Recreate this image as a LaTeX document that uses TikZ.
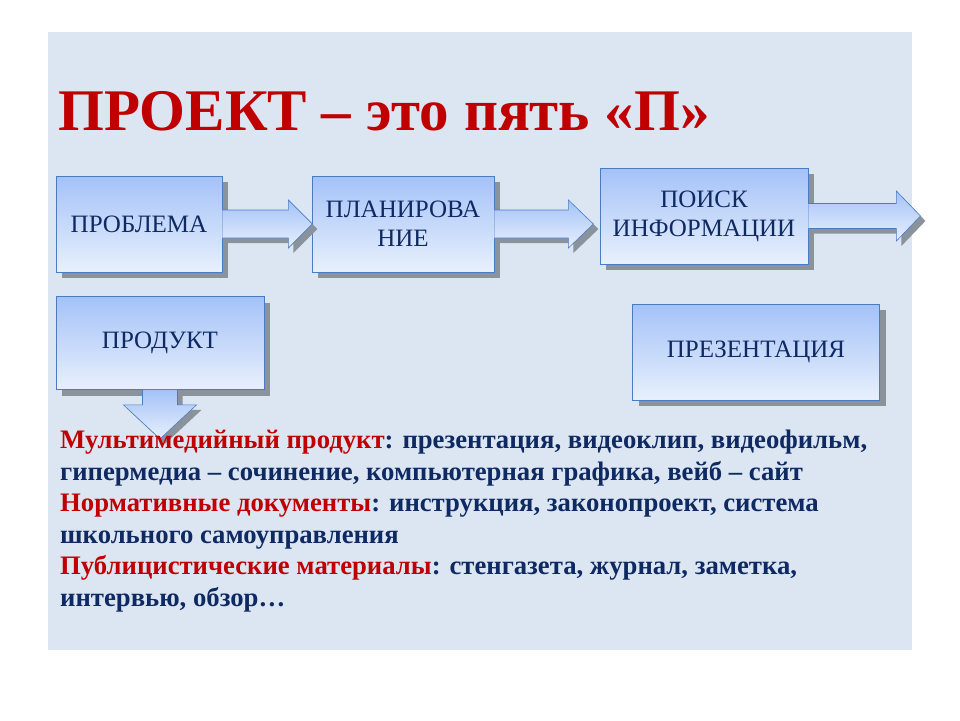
\documentclass[tikz,border=0pt]{standalone}
\usepackage{fontspec}
\setmainfont{Liberation Serif}
\usetikzlibrary{calc,shadows}
\definecolor{panel}{HTML}{DCE6F2}
\definecolor{titlered}{HTML}{C00000}
\definecolor{navy}{HTML}{0F2A62}
\definecolor{boxtop}{HTML}{A4C2F8}
\definecolor{boxbot}{HTML}{E8F0FC}
\definecolor{boxline}{HTML}{4A7CC4}
\definecolor{shadowgray}{HTML}{8A929C}
\begin{document}
\begin{tikzpicture}[x=1pt,y=-1pt,
    stage/.style={draw=boxline,line width=0.8pt,top color=boxtop,bottom color=boxbot,
      drop shadow={shadow xshift=6pt,shadow yshift=-6pt,fill=shadowgray,opacity=1},
      text=navy,font=\fontsize{25}{29}\selectfont,align=center,inner sep=0pt},
    blockarrow/.style={draw=boxline,line width=0.6pt,top color=boxtop,bottom color=boxbot,
      drop shadow={shadow xshift=5pt,shadow yshift=-5pt,fill=shadowgray,opacity=1}},
    body/.style={anchor=base west,inner sep=0pt,text=navy,font=\fontsize{26.7}{31}\selectfont\bfseries}]
  \useasboundingbox (0,0) rectangle (960,720);
  \fill[panel] (48,32) rectangle (912,650);
  \node[anchor=base west,inner sep=0pt,text=titlered,font=\fontsize{59}{64}\selectfont\bfseries] (title) at (58,130) {ПРОЕКТ – это пять «П»};
  \node[stage,minimum width=166,minimum height=96] (problem) at (139,224) {ПРОБЛЕМА};
  \node[stage,minimum width=182,minimum height=96] (plan) at (403,224) {ПЛАНИРОВА\\НИЕ};
  \node[stage,minimum width=208,minimum height=96] (search) at (704,216) {ПОИСК\\ИНФОРМАЦИИ};
  \node[stage,minimum width=208,minimum height=93] (product) at (160,343) {ПРОДУКТ};
  \node[stage,minimum width=247,minimum height=96] (present) at (756,352) {ПРЕЗЕНТАЦИЯ};
  \draw[blockarrow] ($(problem.east)+(0,-14)$) -- ++(66,0) -- ++(0,-10) -- ($(problem.east)+(90,0)$)
    -- ($(problem.east)+(66,24)$) -- ++(0,-10) -- ($(problem.east)+(0,14)$);
  \draw[blockarrow] ($(plan.east)+(0,-14)$) -- ++(74,0) -- ++(0,-10) -- ($(plan.east)+(99,0)$)
    -- ($(plan.east)+(74,24)$) -- ++(0,-10) -- ($(plan.east)+(0,14)$);
  \draw[blockarrow] ($(search.east)+(0,-12.5)$) -- ++(88,0) -- ++(0,-12.5) -- ($(search.east)+(112,0)$)
    -- ($(search.east)+(88,25)$) -- ++(0,-12.5) -- ($(search.east)+(0,12.5)$);
  \draw[blockarrow] ($(product.south)+(-17.5,0)$) -- ++(0,15) -- ++(-19,0) -- ($(product.south)+(0,49)$)
    -- ($(product.south)+(36.5,15)$) -- ++(-19,0) -- ($(product.south)+(17.5,0)$);
  \node[body] (line1) at (60,448) {\textcolor{titlered}{Мультимедийный продукт}: презентация, видеоклип, видеофильм,};
  \node[body] (line2) at (60,480) {гипермедиа – сочинение, компьютерная графика, вейб – сайт};
  \node[body] (line3) at (60,511) {\textcolor{titlered}{Нормативные документы}: инструкция, законопроект, система};
  \node[body] (line4) at (60,543) {школьного самоуправления};
  \node[body] (line5) at (60,574) {\textcolor{titlered}{Публицистические материалы}: стенгазета, журнал, заметка,};
  \node[body] (line6) at (60,606) {интервью, обзор…};
\end{tikzpicture}
\end{document}
